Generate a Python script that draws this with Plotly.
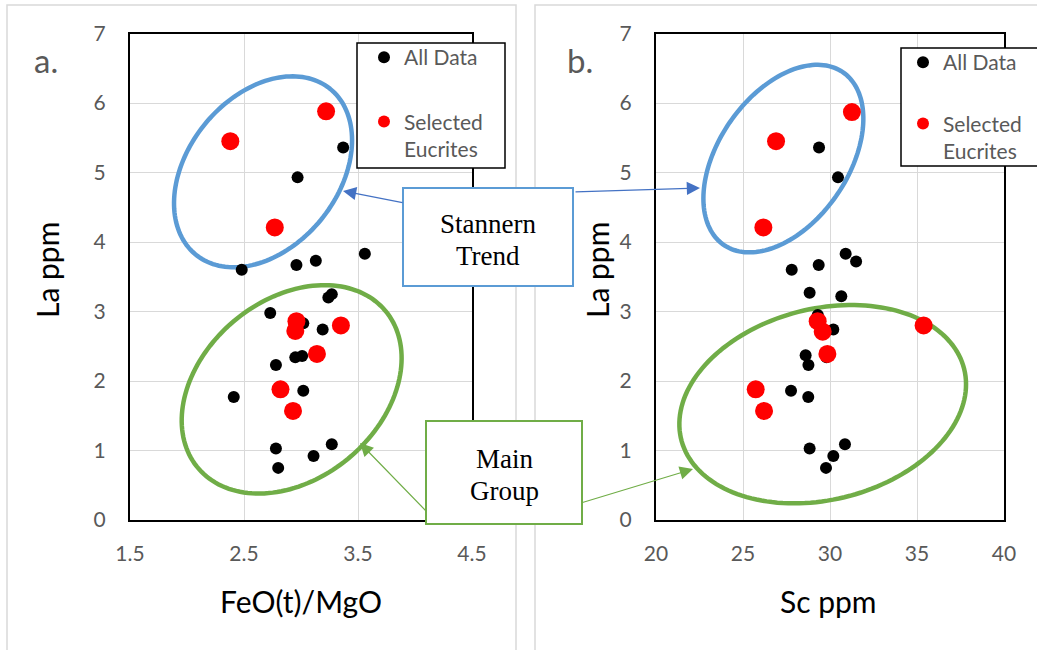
import numpy as np
import plotly.graph_objects as go

W, H = 1037, 650

# Panel a: FeO(t)/MgO vs La (ppm)
feo_all = [3.37, 2.97, 2.48, 2.96, 3.13, 3.56, 3.24, 3.27, 2.73, 3.02,
           3.19, 2.95, 3.01, 2.78, 2.41, 3.02, 2.78, 2.80, 3.11, 3.27]
la_a_all = [5.36, 4.93, 3.60, 3.67, 3.73, 3.83, 3.20, 3.25, 2.98, 2.83,
            2.74, 2.34, 2.36, 2.23, 1.77, 1.86, 1.03, 0.75, 0.92, 1.09]
feo_sel = [2.38, 3.22, 2.77, 2.96, 2.95, 3.35, 3.14, 2.82, 2.93]
la_a_sel = [5.45, 5.88, 4.21, 2.86, 2.72, 2.80, 2.39, 1.88, 1.57]

# Panel b: Sc (ppm) vs La (ppm)
sc_all = [29.37, 30.46, 27.80, 29.35, 30.90, 31.50, 28.83, 30.65, 29.30, 30.19,
          28.60, 28.76, 29.80, 27.76, 28.75, 28.83, 30.86, 30.19, 29.77]
la_b_all = [5.36, 4.93, 3.60, 3.67, 3.83, 3.72, 3.27, 3.22, 2.95, 2.74,
            2.37, 2.23, 2.34, 1.86, 1.77, 1.03, 1.09, 0.92, 0.75]
sc_sel = [26.90, 31.26, 26.17, 29.29, 29.58, 35.38, 29.85, 25.73, 26.21]
la_b_sel = [5.45, 5.87, 4.21, 2.86, 2.71, 2.80, 2.39, 1.88, 1.57]

x_a_ticks = [1.5, 2.5, 3.5, 4.5]
x_b_ticks = [20, 25, 30, 35, 40]
y_ticks = [0, 1, 2, 3, 4, 5, 6, 7]

# plot-area geometry in pixels
A_L, A_R = 130, 472
B_L, B_R = 656, 1004
P_T, P_B = 33.5, 520

def px(x):
    return x / W

def py(y):
    return 1 - y / H

TICK = "#595959"
BLUE = "#5B9BD5"
GREEN = "#70AD47"
ARROW_BLUE = "#4472C4"
FONT = "Lato"

fig = go.Figure()

fig.add_trace(go.Scatter(x=feo_all, y=la_a_all, mode="markers", name="All Data",
                         marker=dict(color="black", size=12), xaxis="x", yaxis="y",
                         legend="legend", legendgroup="a1"))
fig.add_trace(go.Scatter(x=feo_sel, y=la_a_sel, mode="markers", name="Selected<br>Eucrites",
                         marker=dict(color="#FF0000", size=18), xaxis="x", yaxis="y",
                         legend="legend", legendgroup="a2"))
fig.add_trace(go.Scatter(x=sc_all, y=la_b_all, mode="markers", name="All Data",
                         marker=dict(color="black", size=12), xaxis="x2", yaxis="y2",
                         legend="legend2", legendgroup="b1"))
fig.add_trace(go.Scatter(x=sc_sel, y=la_b_sel, mode="markers", name="Selected<br>Eucrites",
                         marker=dict(color="#FF0000", size=18), xaxis="x2", yaxis="y2",
                         legend="legend2", legendgroup="b2"))

axis_common = dict(showgrid=True, gridcolor="#D9D9D9", gridwidth=1, zeroline=False,
                   showline=True, linecolor="black", linewidth=2, mirror=True,
                   ticks="", tickfont=dict(family=FONT, size=21, color=TICK),
                   fixedrange=True)

fig.update_layout(
    width=W, height=H,
    margin=dict(l=0, r=0, t=0, b=0, autoexpand=False),
    paper_bgcolor="white", plot_bgcolor="rgba(0,0,0,0)",
    xaxis=dict(domain=[px(A_L), px(A_R)], range=[1.5, 4.5], tickvals=x_a_ticks,
               ticktext=[f"{v:.1f}" for v in x_a_ticks], anchor="y",
               ticklabelstandoff=14, **axis_common),
    yaxis=dict(domain=[py(P_B), py(P_T)], range=[0, 7], tickvals=y_ticks, anchor="x",
               ticklabelstandoff=18, **axis_common),
    xaxis2=dict(domain=[px(B_L), px(B_R)], range=[20, 40], tickvals=x_b_ticks, anchor="y2",
                ticklabelstandoff=14, **axis_common),
    yaxis2=dict(domain=[py(P_B), py(P_T)], range=[0, 7], tickvals=y_ticks, anchor="x2",
                ticklabelstandoff=18, **axis_common),
    showlegend=True,
    legend=dict(x=px(364), y=py(37), xanchor="left", yanchor="top",
                bgcolor="rgba(0,0,0,0)", borderwidth=0, itemsizing="constant",
                valign="top", traceorder="grouped", tracegroupgap=34,
                font=dict(family=FONT, size=21, color=TICK)),
    legend2=dict(x=px(903), y=py(42), xanchor="left", yanchor="top",
                 bgcolor="rgba(0,0,0,0)", borderwidth=0, itemsizing="constant",
                 valign="top", traceorder="grouped", tracegroupgap=31,
                 font=dict(family=FONT, size=21, color=TICK)),
)

shapes = []

# light chart-area frames around each panel
for x0, x1 in [(7, 516), (535, 1046)]:
    shapes.append(dict(type="rect", xref="paper", yref="paper", layer="below",
                       x0=px(x0), x1=px(x1), y0=py(670), y1=py(5),
                       line=dict(color="#D9D9D9", width=1.5), fillcolor="white"))

# grouping ellipses: centre in data units, semi-axes in pixels, tilt in degrees
kx_a = (A_R - A_L) / 3.0
kx_b = (B_R - B_L) / 20.0
ky = (P_B - P_T) / 7.0

def ellipse_path(cx, cy, a_px, b_px, deg, kx, n=160):
    t = np.linspace(0, 2 * np.pi, n)
    th = np.radians(deg)
    dx = a_px * np.cos(t) * np.cos(th) - b_px * np.sin(t) * np.sin(th)
    dy = a_px * np.cos(t) * np.sin(th) + b_px * np.sin(t) * np.cos(th)
    xs = cx + dx / kx
    ys = cy + dy / ky
    return "M " + " L ".join(f"{x:.4f},{y:.4f}" for x, y in zip(xs, ys)) + " Z"

ellipses = [
    ("x", "y", 2.667, 5.01, 106.7, 75.2, 51.0, kx_a, BLUE),
    ("x", "y", 2.918, 1.88, 122.3, 89.4, 39.9, kx_a, GREEN),
    ("x2", "y2", 27.32, 5.20, 104.9, 64.7, 55.3, kx_b, BLUE),
    ("x2", "y2", 29.58, 1.666, 145.8, 95.5, 14.0, kx_b, GREEN),
]
for xr, yr, cx, cy, a, b, d, kx, col in ellipses:
    shapes.append(dict(type="path", xref=xr, yref=yr, layer="between",
                       path=ellipse_path(cx, cy, a, b, d, kx),
                       line=dict(color=col, width=4.5)))

# legend frames
shapes.append(dict(type="rect", xref="paper", yref="paper", layer="above",
                   x0=px(357), x1=px(505), y0=py(168), y1=py(43),
                   line=dict(color="black", width=1.5), fillcolor="white"))
shapes.append(dict(type="rect", xref="paper", yref="paper", layer="above",
                   x0=px(901), x1=px(1048), y0=py(166), y1=py(48),
                   line=dict(color="black", width=1.5), fillcolor="white"))

# callout boxes
shapes.append(dict(type="rect", xref="paper", yref="paper", layer="above",
                   x0=px(403), x1=px(573), y0=py(286), y1=py(188),
                   line=dict(color=BLUE, width=2), fillcolor="white"))
shapes.append(dict(type="rect", xref="paper", yref="paper", layer="above",
                   x0=px(426), x1=px(582), y0=py(524), y1=py(421),
                   line=dict(color=GREEN, width=2), fillcolor="white"))

fig.update_layout(shapes=shapes)

ann = []

def label(text, x, y, size, color="black", family=FONT, angle=0):
    ann.append(dict(text=text, x=px(x), y=py(y), xref="paper", yref="paper",
                    xanchor="center", yanchor="middle", showarrow=False,
                    textangle=angle, font=dict(family=family, size=size, color=color)))

label("a.", 46, 60, 33, TICK)
label("b.", 580, 60, 33, TICK)
label("La ppm", 47, 270, 30, angle=-90)
label("La ppm", 597, 270, 30, angle=-90)
label("FeO(t)/MgO", 301, 601, 30)
label("Sc ppm", 828, 601, 30)

SERIF = "Liberation Serif"
label("Stannern", 488, 224, 27, family=SERIF)
label("Trend", 488, 256, 27, family=SERIF)
label("Main", 504, 459, 27, family=SERIF)
label("Group", 504, 491, 27, family=SERIF)

def arrow(tip, tail, color):
    ann.append(dict(text="", x=px(tip[0]), y=py(tip[1]), xref="paper", yref="paper",
                    ax=tail[0] - tip[0], ay=tail[1] - tip[1], axref="pixel", ayref="pixel",
                    showarrow=True, arrowhead=2, arrowsize=2.2, arrowwidth=1.2,
                    arrowcolor=color, standoff=0, startstandoff=0))

arrow((343, 191), (404, 203), ARROW_BLUE)
arrow((700, 188), (574, 192), ARROW_BLUE)
arrow((360, 443), (427, 512), GREEN)
arrow((693, 469), (581, 503), GREEN)

fig.update_layout(annotations=ann)

fig.write_html("out.html")
